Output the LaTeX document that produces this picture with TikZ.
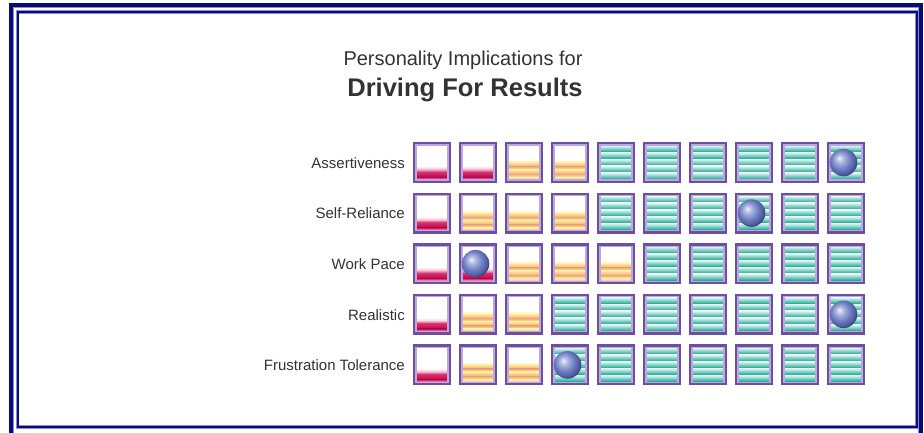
\documentclass[tikz,border=0pt]{standalone}
\usepackage{fontspec}
\setmainfont{Liberation Sans}
\definecolor{navy}{HTML}{0A0A78}
\definecolor{lightnavy}{HTML}{8C8CD0}
\definecolor{boxpurple}{HTML}{6E4E9E}
\definecolor{boxlav}{HTML}{BAA8DE}
\definecolor{txt}{HTML}{333333}
\definecolor{crim}{HTML}{C6004E}
\definecolor{pinkl}{HTML}{F6BCCC}
\definecolor{yel}{HTML}{FDF0A0}
\definecolor{ora}{HTML}{F4A67A}
\definecolor{tealD}{HTML}{0E9E8A}
\definecolor{tealL}{HTML}{E6FBF7}
\definecolor{ballc}{RGB}{112,126,196}
\definecolor{ballhi}{RGB}{236,240,252}
\definecolor{balldk}{RGB}{40,48,110}
\pgfdeclareradialshading{myball}{\pgfpoint{-8bp}{8bp}}{%
  color(0bp)=(ballhi); color(7bp)=(ballc!55!white); color(17bp)=(ballc);
  color(25bp)=(ballc!55!balldk); color(30bp)=(balldk); color(50bp)=(balldk)}
\tikzset{
  bframe/.style={boxpurple,line width=2.4pt},
  blav/.style={boxlav,line width=1.2pt},
  rowlabel/.style={anchor=east,inner sep=0pt,font=\fontsize{15}{18}\selectfont,text=txt},
  boxborder/.pic={
    \draw[blav] (3,3) rectangle (35,38);
    \draw[bframe] (1.2,1.2) rectangle (36.8,39.8);
  },
  lowbox/.pic={
    \fill[white] (2,2) rectangle (36,39);
    \shade[top color=white,bottom color=pinkl] (3.6,24) rectangle (34.4,27.2);
    \shade[top color=pinkl,bottom color=crim!80!white] (3.6,27) rectangle (34.4,30.2);
    \shade[top color=crim!80!white,bottom color=crim] (3.6,30) rectangle (34.4,35.2);
    \shade[top color=crim,bottom color=pinkl] (3.6,35) rectangle (34.4,37.6);
    \pic {boxborder};
  },
  midbox/.pic={
    \fill[white] (2,2) rectangle (36,39);
    \shade[top color=white,bottom color=yel] (3.6,17.5) rectangle (34.4,20.2);
    \shade[top color=yel,bottom color=ora] (3.6,20) rectangle (34.4,24.7);
    \shade[top color=ora,bottom color=yel] (3.6,24.5) rectangle (34.4,27.7);
    \shade[top color=yel,bottom color=ora] (3.6,27.5) rectangle (34.4,32.2);
    \shade[top color=ora,bottom color=yel] (3.6,32) rectangle (34.4,35.2);
    \shade[top color=yel,bottom color=pinkl] (3.6,35) rectangle (34.4,37.6);
    \pic {boxborder};
  },
  highbox/.pic={
    \fill[white] (2,2) rectangle (36,39);
    \foreach \k in {0,...,4}{
      \shade[top color=tealL,bottom color=tealD]
        (3.6,3.4+6.8*\k) rectangle (34.4,10.4+6.8*\k);
    }
    \pic {boxborder};
  },
  ballpic/.pic={
    \shade[shading=myball] (16.5,20.5) circle (13.8);
  },
}
\begin{document}
\begin{tikzpicture}[x=1pt,y=-1pt]
\useasboundingbox (0,0) rectangle (924,432);
\clip (0,0) rectangle (924,432);
\fill[white] (0,0) rectangle (924,432);
% frames
\draw[lightnavy,line width=5pt] (11.2,5.2) rectangle (920.5,445);
\draw[navy,line width=4pt] (11,5) rectangle (920.7,445);
\draw[lightnavy,line width=3.6pt] (17.6,12.1) rectangle (916.9,427);
\draw[navy,line width=2pt] (17.6,12.1) rectangle (916.9,427);
% title
\node[anchor=base,inner sep=0pt,text=txt,font=\fontsize{20}{24}\selectfont] (t1) at (463,65) {Personality Implications for};
\node[anchor=base,inner sep=0pt,text=txt,font=\fontsize{25.5}{30}\selectfont\bfseries] (t2) at (465,96) {Driving For Results};
% rows
\foreach \lab/\types/\ball [count=\r from 0] in {
  Assertiveness/{lowbox,lowbox,midbox,midbox,highbox,highbox,highbox,highbox,highbox,highbox}/10,
  Self-Reliance/{lowbox,midbox,midbox,midbox,highbox,highbox,highbox,highbox,highbox,highbox}/8,
  Work Pace/{lowbox,lowbox,midbox,midbox,midbox,highbox,highbox,highbox,highbox,highbox}/2,
  Realistic/{lowbox,midbox,midbox,highbox,highbox,highbox,highbox,highbox,highbox,highbox}/10,
  Frustration Tolerance/{lowbox,midbox,midbox,highbox,highbox,highbox,highbox,highbox,highbox,highbox}/4}{
  \pgfmathsetmacro\yy{142+50.6*\r}
  \node[rowlabel] (lab\r) at (405,\yy+21) {\lab};
  \foreach \t [count=\i from 1] in \types {
    \pgfmathsetmacro\xx{413+46*(\i-1)}
    \pic at (\xx,\yy) {\t};
    \ifnum\i=\ball \pic at (\xx,\yy) {ballpic};\fi
  }
}
\end{tikzpicture}
\end{document}
